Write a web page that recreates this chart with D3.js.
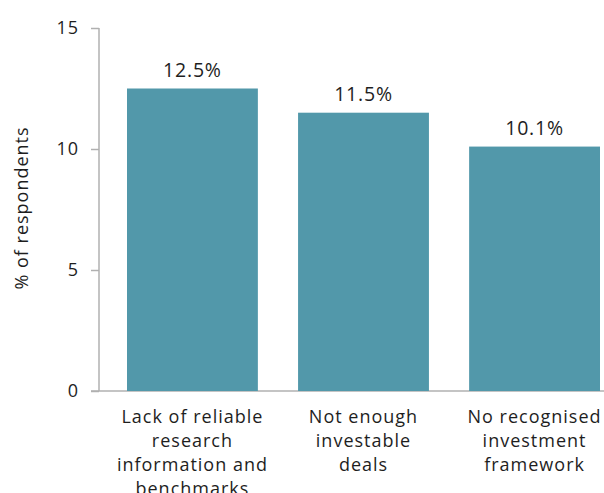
<!DOCTYPE html>
<html><head><meta charset="utf-8">
<script src="https://cdn.jsdelivr.net/npm/d3@7"></script>
<style>body{margin:0;background:#fff}text{font-family:"Open Sans",sans-serif;fill:#1e1e1e}</style>
</head><body>
<svg id="c" width="604" height="493"></svg>
<script>
const categories = ["Lack of reliable research information and benchmarks", "Not enough investable deals", "No recognised investment framework"];
const categoryLines = [["Lack of reliable","research","information and","benchmarks"],["Not enough","investable","deals"],["No recognised","investment","framework"]];
const values = [12.5, 11.5, 10.1];
const valueLabels = ["12.5%", "11.5%", "10.1%"];
const yTicks = [0, 5, 10, 15];
const yTitle = "% of respondents";

const svg = d3.select("#c");
const x = d3.scaleBand().domain(categories).range([127, 600]).paddingInner(0.235).paddingOuter(0);
const y = d3.scaleLinear().domain([0, 15]).range([391, 28]);
const grey = "#b0b0b0";

// axes
svg.append("line").attr("x1", 99).attr("x2", 99).attr("y1", y(15)).attr("y2", y(0)).attr("stroke", grey).attr("stroke-width", 1.5);
svg.append("line").attr("x1", 91).attr("x2", 604).attr("y1", y(0)).attr("y2", y(0)).attr("stroke", grey).attr("stroke-width", 1.5);
const yg = svg.append("g").attr("transform", "translate(99,0)").call(d3.axisLeft(y).tickValues(yTicks).tickSize(8).tickPadding(12).tickFormat(d3.format("d")));
yg.select(".domain").remove();
yg.selectAll(".tick line").attr("stroke", grey).attr("stroke-width", 1.5);
yg.selectAll(".tick text").attr("font-size", 18).attr("letter-spacing", 1).attr("fill", "#1e1e1e").style("font-family", "'Open Sans', sans-serif");

// bars
svg.selectAll("rect.bar").data(values).enter().append("rect").attr("class","bar")
  .attr("x", (d,i) => x(categories[i])).attr("width", x.bandwidth())
  .attr("y", d => y(d)).attr("height", d => y(0) - y(d)).attr("fill", "#5298aa");

svg.selectAll("text.val").data(values).enter().append("text").attr("class","val")
  .attr("x", (d,i) => x(categories[i]) + x.bandwidth()/2).attr("y", d => y(d) - 12)
  .attr("text-anchor", "middle").attr("font-size", 19.5).attr("letter-spacing", 0.8).text((d,i) => valueLabels[i]);

// category labels
categories.forEach((c, i) => {
  const t = svg.append("text").attr("text-anchor", "middle").attr("font-size", 18).attr("letter-spacing", 1);
  categoryLines[i].forEach((ln, j) => {
    t.append("tspan").attr("x", x(c) + x.bandwidth()/2).attr("y", 423 + j*24).text(ln);
  });
});

svg.append("text").attr("transform", "translate(28,208) rotate(-90)").attr("text-anchor", "middle").attr("font-size", 18).attr("letter-spacing", 1).text(yTitle);
</script>
</body></html>
